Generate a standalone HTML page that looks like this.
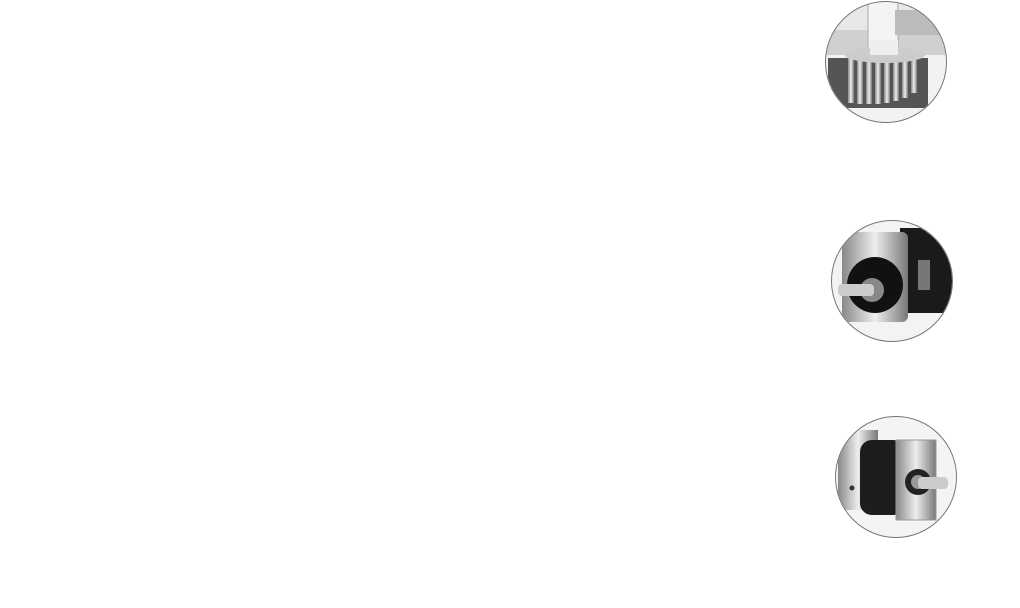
<!DOCTYPE html>
<html><head><meta charset="utf-8"><style>
html,body{margin:0;padding:0;background:#fff;width:1020px;height:608px;overflow:hidden}
</style></head><body>
<svg width="1020" height="608" viewBox="0 0 1020 608" xmlns="http://www.w3.org/2000/svg">
<defs>
<clipPath id="c1"><circle cx="886" cy="62" r="60"/></clipPath>
<clipPath id="c2"><circle cx="892" cy="281" r="60"/></clipPath>
<clipPath id="c3"><circle cx="896" cy="477" r="60"/></clipPath>
<linearGradient id="met" x1="0" x2="1"><stop offset="0" stop-color="#888"/><stop offset=".5" stop-color="#eee"/><stop offset="1" stop-color="#777"/></linearGradient>
</defs>
<!-- circle 1: gear rack -->
<g clip-path="url(#c1)">
<rect x="820" y="0" width="140" height="130" fill="#e8e8e8"/>
<rect x="820" y="30" width="140" height="25" fill="#d0d0d0"/>
<rect x="820" y="55" width="140" height="75" fill="#f2f2f2"/>
<rect x="868" y="0" width="30" height="50" fill="#f4f4f4" stroke="#aaa"/>
<rect x="895" y="10" width="55" height="25" fill="#bbb"/>
<rect x="828" y="58" width="100" height="50" fill="#555"/>
<g fill="url(#met)">
<rect x="848" y="58" width="6" height="45"/><rect x="857" y="58" width="6" height="46"/><rect x="866" y="58" width="6" height="46"/><rect x="875" y="58" width="6" height="46"/><rect x="884" y="58" width="6" height="45"/><rect x="893" y="58" width="6" height="43"/><rect x="902" y="58" width="6" height="40"/><rect x="911" y="58" width="6" height="35"/>
</g>
<ellipse cx="885" cy="55" rx="40" ry="8" fill="#ccc"/>
<rect x="870" y="40" width="28" height="15" fill="#eee"/>
</g>
<circle cx="886" cy="62" r="60.5" fill="none" stroke="#777" stroke-width="1"/>
<!-- circle 2: servo motor -->
<g clip-path="url(#c2)">
<rect x="830" y="220" width="125" height="125" fill="#f3f3f3"/>
<rect x="900" y="228" width="55" height="85" fill="#1a1a1a"/>
<rect x="842" y="232" width="66" height="90" rx="6" fill="url(#met)"/>
<circle cx="875" cy="285" r="28" fill="#111"/>
<circle cx="872" cy="290" r="12" fill="#888"/>
<rect x="838" y="284" width="36" height="12" rx="4" fill="#ccc"/>
<rect x="918" y="260" width="12" height="30" fill="#777"/>
</g>
<circle cx="892" cy="281" r="60.5" fill="none" stroke="#777" stroke-width="1"/>
<!-- circle 3: gearbox -->
<g clip-path="url(#c3)">
<rect x="834" y="415" width="125" height="125" fill="#f4f4f4"/>
<rect x="838" y="430" width="40" height="80" fill="url(#met)"/>
<rect x="860" y="440" width="45" height="75" rx="12" fill="#1d1d1d"/>
<rect x="896" y="440" width="40" height="80" fill="url(#met)" stroke="#999"/>
<circle cx="918" cy="482" r="13" fill="#222"/>
<circle cx="918" cy="482" r="7" fill="#999"/>
<rect x="918" y="477" width="30" height="12" rx="4" fill="#ccc"/>
<circle cx="852" cy="488" r="2.5" fill="#333"/>
</g>
<circle cx="896" cy="477" r="60.5" fill="none" stroke="#777" stroke-width="1"/>
</svg>
</body></html>
